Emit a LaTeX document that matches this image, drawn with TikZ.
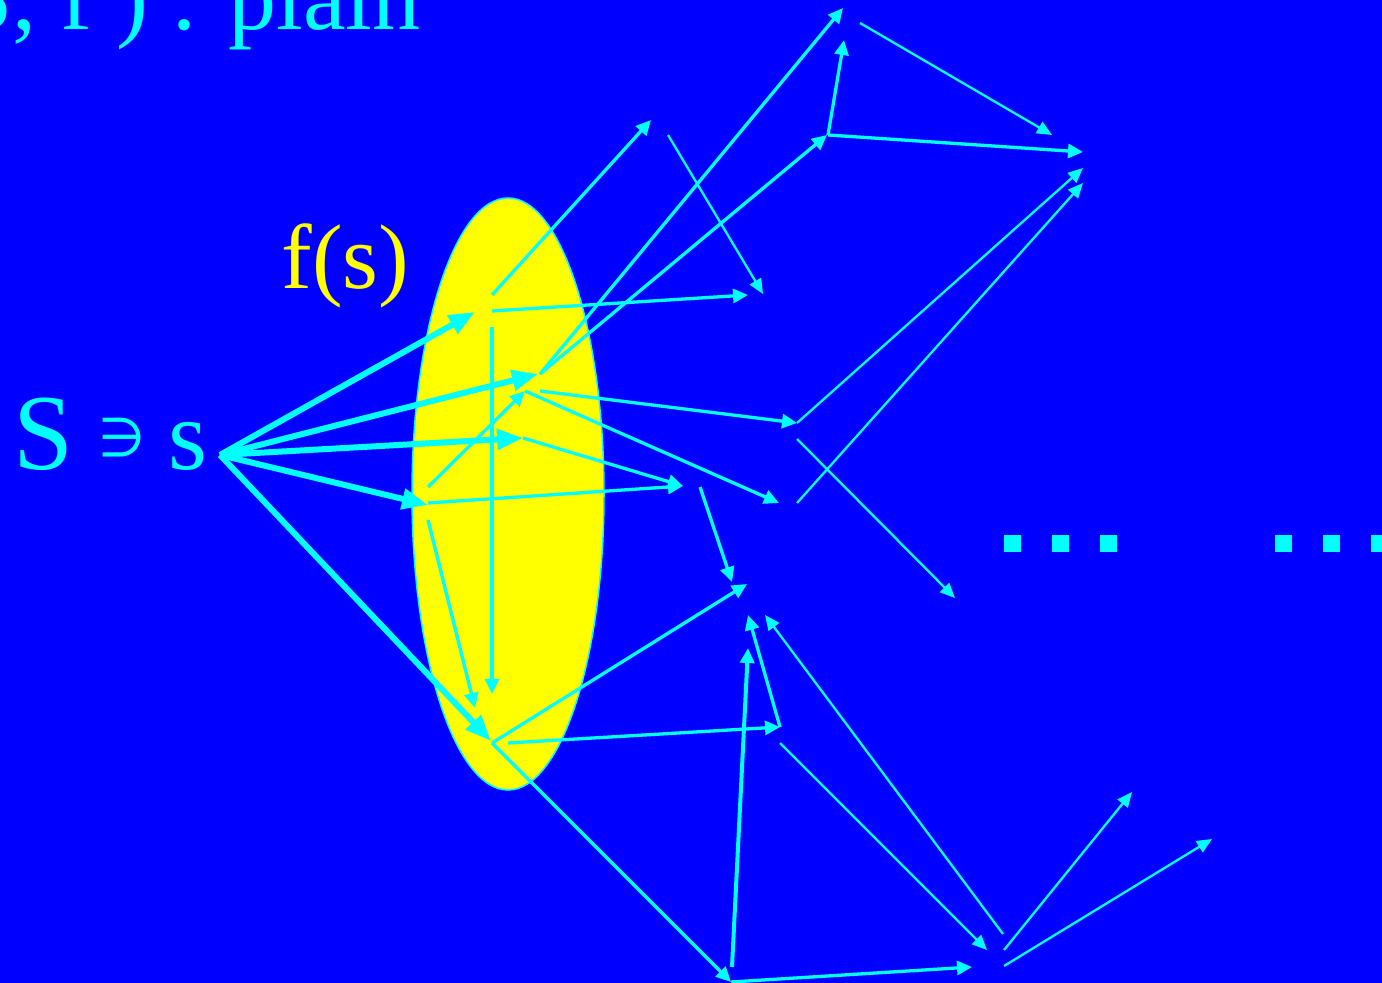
\documentclass[tikz,border=0pt]{standalone}
\usepackage{fontspec}
\setmainfont{Liberation Serif}
\newfontfamily\symfont{DejaVu Sans}
\usetikzlibrary{arrows.meta,shapes.geometric}
\definecolor{bgblue}{RGB}{0,0,255}
\definecolor{cyanc}{RGB}{0,255,255}
\definecolor{yellowc}{RGB}{255,255,0}
\begin{document}
\begin{tikzpicture}[x=0.5pt,y=-0.5pt,
  thickarr/.style={draw=cyanc,line width=3pt,-{Triangle[length=13pt,width=10pt]}},
  medarr/.style={draw=cyanc,line width=1.65pt,-{Triangle[length=7.5pt,width=7pt]}},
  thinarr/.style={draw=cyanc,line width=1.15pt,-{Triangle[length=7.5pt,width=6.5pt]}},
  cytext/.style={text=cyanc,inner sep=0pt},
  dotbox/.style={fill=cyanc,minimum size=8.5pt,inner sep=0pt},
]
\useasboundingbox (0,0) rectangle (1382,983);
\fill[bgblue] (0,0) rectangle (1382,983);

% the yellow set f(s)
\node[ellipse,draw=cyanc,line width=0.75pt,fill=yellowc,minimum width=96pt,minimum height=296pt,inner sep=0pt] (F) at (508,494) {};

% texts
\node[cytext,anchor=base east,font=\fontsize{48}{50}\selectfont] (title) at (421,30) {(S, f ) . plain};
\node[text=yellowc,inner sep=0pt,anchor=base west,font=\fontsize{46}{48}\selectfont] (fs) at (281,289) {f(s)};
\node[cytext,anchor=base west,font=\fontsize{54}{56}\selectfont] (S) at (13,470) {S};
\node[cytext,anchor=base west,font=\symfont\fontsize{27}{29}\selectfont] (ni) at (98,457) {∋};
\node[cytext,anchor=base west,font=\fontsize{50}{52}\selectfont] (s) at (168,470) {s};

% dots
\foreach \i/\x in {1/1012,2/1060,3/1108,4/1283,5/1331,6/1379}
  \node[dotbox] (dot\i) at (\x,544) {};

% points
\coordinate (s0) at (220,455);
\coordinate (a1) at (475,312);
\coordinate (a2) at (538,374);
\coordinate (a3) at (523,438);
\coordinate (a4) at (428,505);
\coordinate (a5) at (491,741);

\coordinate (b1) at (492,295);
\coordinate (b2) at (492,311);
\coordinate (b3) at (492,327);
\coordinate (b4) at (540,374);
\coordinate (b5) at (428,487);
\coordinate (b6) at (540,391);
\coordinate (b7) at (525,391);
\coordinate (b8) at (428,503);
\coordinate (b9) at (428,520);
\coordinate (b10) at (492,743);
\coordinate (b11) at (508,743);

\coordinate (c1) at (651,120);
\coordinate (c2) at (748,295);
\coordinate (c3) at (492,694);
\coordinate (c4) at (843,8);
\coordinate (c5) at (827,135);
\coordinate (c6) at (828,135);
\coordinate (c7) at (844,40);
\coordinate (c8) at (1083,152);
\coordinate (c9) at (797,423);
\coordinate (c10) at (779,503);
\coordinate (c11) at (683,486);
\coordinate (c12) at (475,708);
\coordinate (c13) at (700,487);
\coordinate (c14) at (732,582);
\coordinate (c15) at (747,584);
\coordinate (c16) at (731,982);
\coordinate (c17) at (780,727);
\coordinate (c18) at (748,615);
\coordinate (c19) at (732,967);
\coordinate (c20) at (748,648);
\coordinate (c21) at (972,967);

\coordinate (d1) at (860,23);
\coordinate (d2) at (1052,135);
\coordinate (d3) at (668,135);
\coordinate (d4) at (763,294);
\coordinate (d5) at (797,423);
\coordinate (d6) at (1083,168);
\coordinate (d7) at (797,503);
\coordinate (d8) at (1083,183);
\coordinate (d9) at (797,439);
\coordinate (d10) at (955,598);
\coordinate (d11) at (1003,934);
\coordinate (d12) at (765,615);
\coordinate (d13) at (780,743);
\coordinate (d14) at (987,950);
\coordinate (d15) at (1004,950);
\coordinate (d16) at (1132,792);
\coordinate (d17) at (1004,966);
\coordinate (d18) at (1212,839);

% thin arrows
\draw[thinarr] (d1) -- (d2);
\draw[thinarr] (d3) -- (d4);
\draw[thinarr] (d5) -- (d6);
\draw[thinarr] (d7) -- (d8);
\draw[thinarr] (d9) -- (d10);
\draw[thinarr] (d11) -- (d12);
\draw[thinarr] (d13) -- (d14);
\draw[thinarr] (d15) -- (d16);
\draw[thinarr] (d17) -- (d18);

% medium arrows
\draw[medarr] (b1) -- (c1);
\draw[medarr] (b2) -- (c2);
\draw[medarr] (b3) -- (c3);
\draw[medarr] (b4) -- (c4);
\draw[medarr] (b4) -- (c5);
\draw[medarr] (c6) -- (c7);
\draw[medarr] (c6) -- (c8);
\draw[medarr] (b5) -- (b7);
\draw[medarr] (b6) -- (c9);
\draw[medarr] (b7) -- (c10);
\draw[medarr] (a3) -- (c11);
\draw[medarr] (b8) -- (c11);
\draw[medarr] (b9) -- (c12);
\draw[medarr] (c13) -- (c14);
\draw[medarr] (b10) -- (c15);
\draw[medarr] (b10) -- (c16);
\draw[medarr] (b11) -- (c17);
\draw[medarr] (c17) -- (c18);
\draw[medarr,line width=2pt] (c19) -- (c20);
\draw[medarr] (c16) -- (c21);

% thick arrows from s
\draw[thickarr] (s0) -- (a1);
\draw[thickarr] (s0) -- (a2);
\draw[thickarr] (s0) -- (a3);
\draw[thickarr] (s0) -- (a4);
\draw[thickarr] (s0) -- (a5);
\end{tikzpicture}
\end{document}
